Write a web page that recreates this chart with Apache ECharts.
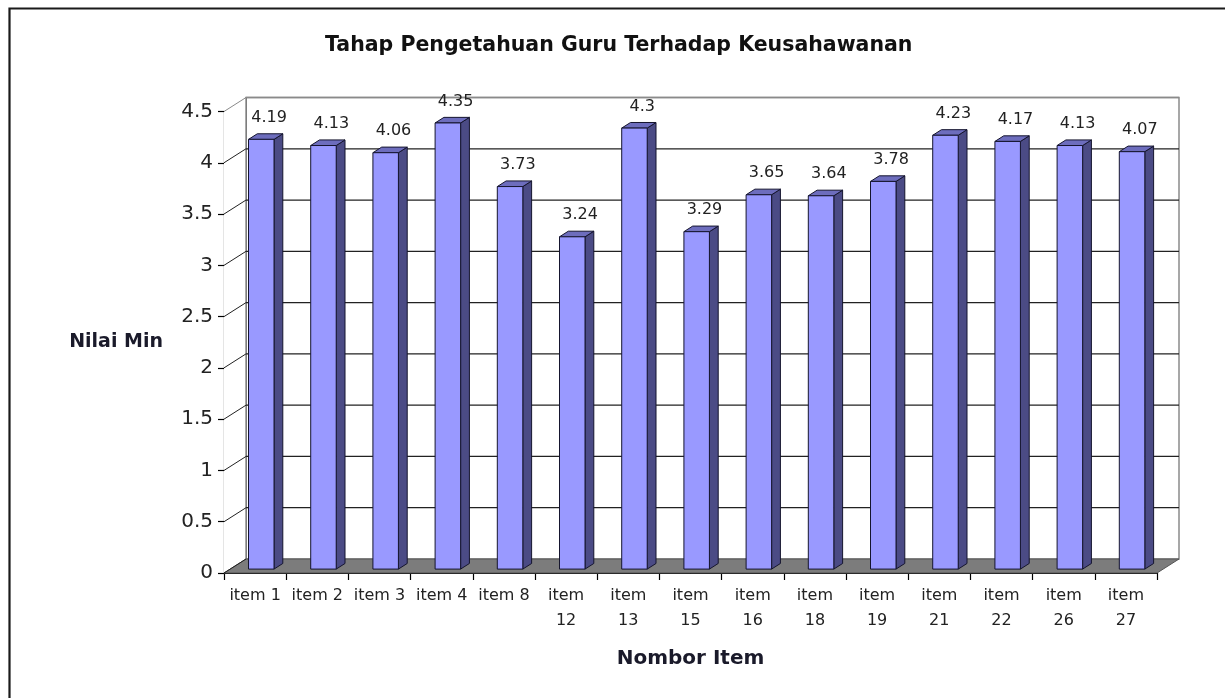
<!DOCTYPE html>
<html>
<head>
<meta charset="utf-8">
<script src="https://cdn.jsdelivr.net/npm/echarts@6/dist/echarts.min.js"></script>
<style>
html,body{margin:0;padding:0;background:#fff;}
#c{width:1225px;height:698px;}
</style>
</head>
<body>
<div id="c"></div>
<script>
const titleText = 'Tahap Pengetahuan Guru Terhadap Keusahawanan';
const yAxisName = 'Nilai Min';
const xAxisName = 'Nombor Item';
const categories = ['item 1','item 2','item 3','item 4','item 8','item 12','item 13','item 15','item 16','item 18','item 19','item 21','item 22','item 26','item 27'];
const values = [4.19, 4.13, 4.06, 4.35, 3.73, 3.24, 4.3, 3.29, 3.65, 3.64, 3.78, 4.23, 4.17, 4.13, 4.07];
const yTicks = [0, 0.5, 1, 1.5, 2, 2.5, 3, 3.5, 4, 4.5];

const DX = 22, DY = -14;      // depth offset of the back wall
const F0 = 0.28, F1 = 0.68;   // front / back depth fraction of the bars
const FONT = '"DejaVu Sans", Verdana, sans-serif';

const chart = echarts.init(document.getElementById('c'), null, {renderer: 'canvas'});

function renderWalls(params, api) {
  const cs = params.coordSys;
  const v = api.value(1);
  const y = api.coord([0, v])[1];
  const left = cs.x, right = cs.x + cs.width, top = cs.y, bottom = cs.y + cs.height;
  const children = [];
  const last = params.dataIndex === yTicks.length - 1;
  if (params.dataIndex === 0) {
    children.push({type: 'rect', shape: {x: left + DX, y: top + DY, width: cs.width, height: cs.height},
      style: {fill: '#ffffff', stroke: '#8a8a8a', lineWidth: 1.5}});
    children.push({type: 'polygon', shape: {points: [[left, top], [left + DX, top + DY], [left + DX, bottom + DY], [left, bottom]]},
      style: {fill: '#ffffff'}});
    children.push({type: 'line', shape: {x1: left + DX, y1: top + DY, x2: left + DX, y2: bottom + DY},
      style: {stroke: '#555', lineWidth: 1}});
    children.push({type: 'polygon', shape: {points: [[left, bottom], [right, bottom], [right + DX, bottom + DY], [left + DX, bottom + DY]]},
      style: {fill: '#7c7c7c', stroke: '#555', lineWidth: 1}});
  } else {
    children.push({type: 'line', shape: {x1: left + DX, y1: y + DY, x2: right + DX, y2: y + DY},
      style: {stroke: last ? '#8a8a8a' : '#222', lineWidth: last ? 1.5 : 1.2}});
  }
  children.push({type: 'line', shape: {x1: left, y1: y, x2: left + DX, y2: y + DY},
    style: {stroke: last ? '#8a8a8a' : '#222', lineWidth: 1}});
  return {type: 'group', children: children};
}

function renderBar(params, api) {
  const i = api.value(0), v = api.value(1);
  const base = api.coord([i, 0]);
  const tp = api.coord([i, v]);
  const bw = api.size([1, 0])[0];
  const w = bw * 0.41;
  const cx = base[0];
  const x0 = cx - w / 2, x1 = cx + w / 2;
  const ax = F0 * DX, ay = F0 * DY, bx = F1 * DX, by = F1 * DY;
  const yb = base[1], yt = tp[1];
  const edge = '#15152e';
  return {type: 'group', children: [
    {type: 'polygon', shape: {points: [[x1 + ax, yt + ay], [x1 + bx, yt + by], [x1 + bx, yb + by], [x1 + ax, yb + ay]]},
      style: {fill: '#4b4b85', stroke: edge, lineWidth: 1}},
    {type: 'polygon', shape: {points: [[x0 + ax, yt + ay], [x1 + ax, yt + ay], [x1 + bx, yt + by], [x0 + bx, yt + by]]},
      style: {fill: '#6d6dbd', stroke: edge, lineWidth: 1}},
    {type: 'rect', shape: {x: x0 + ax, y: yt + ay, width: w, height: yb - yt},
      style: {fill: '#9999ff', stroke: edge, lineWidth: 1}},
    {type: 'text', x: cx + bx - 1, y: yt + by - 8,
      style: {text: String(values[params.dataIndex]), fill: '#222', fontSize: 16, fontFamily: FONT, align: 'center', verticalAlign: 'bottom'}}
  ]};
}

const option = {
  backgroundColor: '#ffffff',
  animation: false,
  title: {
    text: titleText,
    left: 325,
    top: 35,
    padding: 0,
    textStyle: {fontFamily: FONT, fontSize: 20.5, fontWeight: 'bold', color: '#111'}
  },
  graphic: [
    {type: 'polyline', shape: {points: [[9.5, 720], [9.5, 8.5], [1240, 8.5]]}, style: {stroke: '#1a1a1a', lineWidth: 2.2, fill: null}}
  ],
  grid: {left: 224, right: 68, top: 111.5, bottom: 125, containLabel: false},
  xAxis: {
    type: 'category',
    data: categories,
    boundaryGap: true,
    name: xAxisName,
    nameLocation: 'middle',
    nameGap: 76,
    nameTextStyle: {fontFamily: FONT, fontSize: 20, fontWeight: 'bold', color: '#1a1a2a'},
    axisLine: {show: true, lineStyle: {color: '#000', width: 1.2}},
    axisTick: {show: true, length: 7, alignWithLabel: false, lineStyle: {color: '#000', width: 1.2}},
    axisLabel: {
      interval: 0, margin: 10, fontFamily: FONT, fontSize: 16, color: '#222', lineHeight: 25,
      formatter: function (s) { return s.length > 6 ? s.replace(' ', '\n') : s; }
    },
    splitLine: {show: false}
  },
  yAxis: {
    type: 'value',
    min: yTicks[0],
    max: yTicks[yTicks.length - 1],
    interval: yTicks[1] - yTicks[0],
    name: yAxisName,
    nameLocation: 'middle',
    nameRotate: 0,
    nameGap: 61,
    nameTextStyle: {fontFamily: FONT, fontSize: 19, fontWeight: 'bold', color: '#1a1a2a'},
    axisLine: {show: true, lineStyle: {color: '#000', width: 1.2}},
    axisTick: {show: true, length: 6, lineStyle: {color: '#000', width: 1.2}},
    axisLabel: {margin: 11, fontFamily: FONT, fontSize: 20, color: '#222'},
    splitLine: {show: false}
  },
  series: [
    {
      type: 'custom',
      name: 'walls',
      z: 1,
      silent: true,
      renderItem: renderWalls,
      data: yTicks.map(function (t) { return [0, t]; }),
      clip: false
    },
    {
      type: 'custom',
      name: 'Nilai Min',
      z: 2,
      renderItem: renderBar,
      data: values.map(function (v, i) { return [i, v]; }),
      clip: false
    }
  ]
};
chart.setOption(option);
</script>
</body>
</html>
